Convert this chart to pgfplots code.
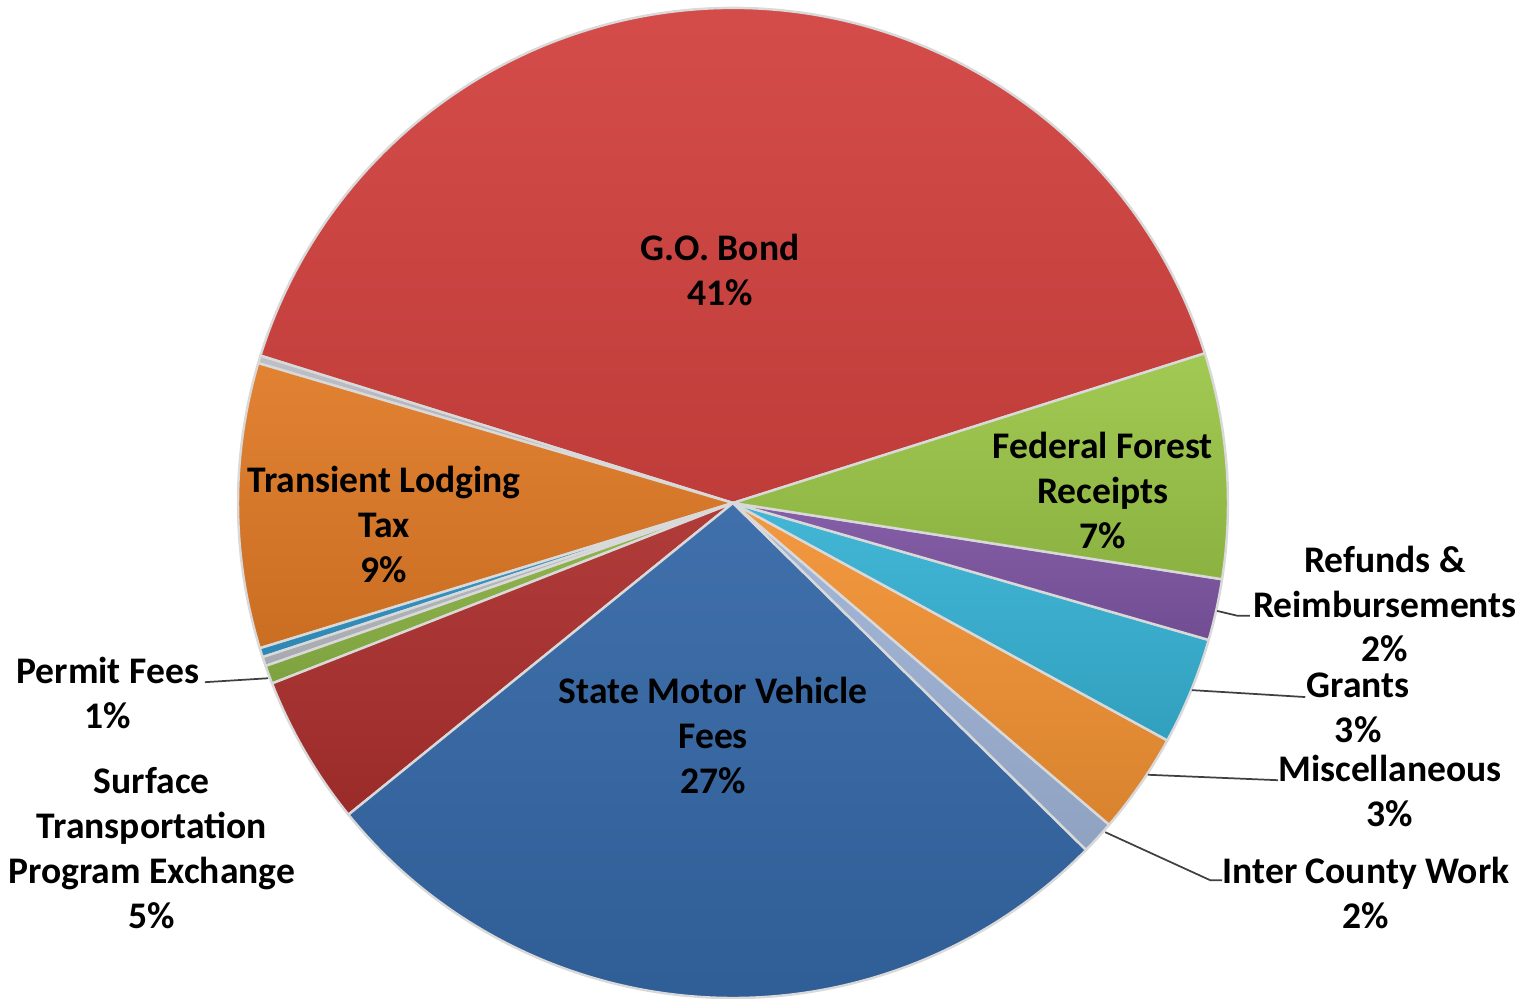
\documentclass[border=0pt]{standalone}
\usepackage{fontspec}
\setmainfont{Carlito}
\usepackage{pgfplots}
\usepackage{pgfplotstable}
\pgfplotsset{compat=1.18}

\definecolor{cGO}{RGB}{212,67,64}
\definecolor{cGray}{RGB}{185,188,195}
\definecolor{cTLT}{RGB}{224,122,38}
\definecolor{cSliverBlue}{RGB}{50,150,200}
\definecolor{cPermit}{RGB}{140,180,70}
\definecolor{cSTPE}{RGB}{172,48,46}
\definecolor{cSMVF}{RGB}{52,103,166}
\definecolor{cICW}{RGB}{160,180,215}
\definecolor{cMisc}{RGB}{242,146,52}
\definecolor{cGrants}{RGB}{55,178,212}
\definecolor{cRefund}{RGB}{125,85,162}
\definecolor{cFF}{RGB}{155,198,72}

% slices counter-clockwise, starting at the G.O. Bond / Federal Forest boundary
\pgfplotstableread{
value col
40.30 cGO
0.25  cGray
9.30  cTLT
0.30  cSliverBlue
0.30  cGray
0.60  cPermit
4.90  cSTPE
26.80 cSMVF
1.10  cICW
3.30  cMisc
3.50  cGrants
2.00  cRefund
7.35  cFF
}\piedata

\tikzset{lbl/.style={font=\bfseries\fontsize{10.8}{12.9}\selectfont, align=center, inner sep=0pt, text=black}}

\begin{document}
\begin{tikzpicture}
\begin{axis}[
  name=ax,
  hide axis, disabledatascaling, x=5cm, y=5cm,
  xmin=-1.4808, xmax=1.6162, ymin=-1.0020, ymax=1.0162,
  clip=false,
]
\pgfplotstablegetrowsof{\piedata}
\pgfmathtruncatemacro{\N}{\pgfplotsretval-1}
\def\angA{17.6}
\pgfplotsforeachungrouped \i in {0,...,\N}{%
  \pgfplotstablegetelem{\i}{value}\of\piedata \let\v\pgfplotsretval
  \pgfplotstablegetelem{\i}{col}\of\piedata \let\c\pgfplotsretval
  \pgfmathsetmacro{\angB}{\angA+3.6*\v}%
  \pgfmathsetmacro{\xa}{cos(\angA)}%
  \pgfmathsetmacro{\ya}{sin(\angA)}%
  \edef\cmd{\noexpand\path[top color=\c!94!white, bottom color=\c!90!black, draw=white!70!gray, line width=0.7pt, line join=round]
    (axis cs:0,0) -- (axis cs:\xa,\ya) arc[start angle=\angA, end angle=\angB, radius=5cm] -- cycle;}%
  \cmd
  \let\angA\angB
}

% labels
\node[lbl] at (axis cs:-0.026,0.471) {G.O. Bond\\41\%};
\node[lbl] at (axis cs:0.747,0.026) {Federal Forest\\Receipts\\7\%};
\node[lbl] at (axis cs:1.317,-0.204) {Refunds \&\\Reimbursements\\2\%};
\node[lbl] at (axis cs:1.263,-0.414) {Grants\\3\%};
\node[lbl] at (axis cs:1.327,-0.582) {Miscellaneous\\3\%};
\node[lbl] at (axis cs:1.279,-0.788) {Inter County Work\\2\%};
\node[lbl] at (axis cs:-0.040,-0.469) {State Motor Vehicle\\Fees\\27\%};
\node[lbl] at (axis cs:-1.174,-0.697) {Surface\\Transportation\\Program Exchange\\5\%};
\node[lbl] at (axis cs:-1.263,-0.384) {Permit Fees\\1\%};
\node[lbl] at (axis cs:-0.705,-0.044) {Transient Lodging\\Tax\\9\%};

% leader lines
\draw[black!75, line width=0.5pt] (axis cs:-1.067,-0.362) -- (axis cs:-0.939,-0.354);
\draw[black!75, line width=0.5pt] (axis cs:0.978,-0.218) -- (axis cs:1.020,-0.228) -- (axis cs:1.044,-0.228);
\draw[black!75, line width=0.5pt] (axis cs:0.927,-0.378) -- (axis cs:1.156,-0.392);
\draw[black!75, line width=0.5pt] (axis cs:0.838,-0.549) -- (axis cs:1.101,-0.560);
\draw[black!75, line width=0.5pt] (axis cs:0.752,-0.665) -- (axis cs:0.964,-0.762) -- (axis cs:0.988,-0.762);
\end{axis}
\pgfresetboundingbox
\path (ax.south west) rectangle (ax.north east);
\end{tikzpicture}
\end{document}
